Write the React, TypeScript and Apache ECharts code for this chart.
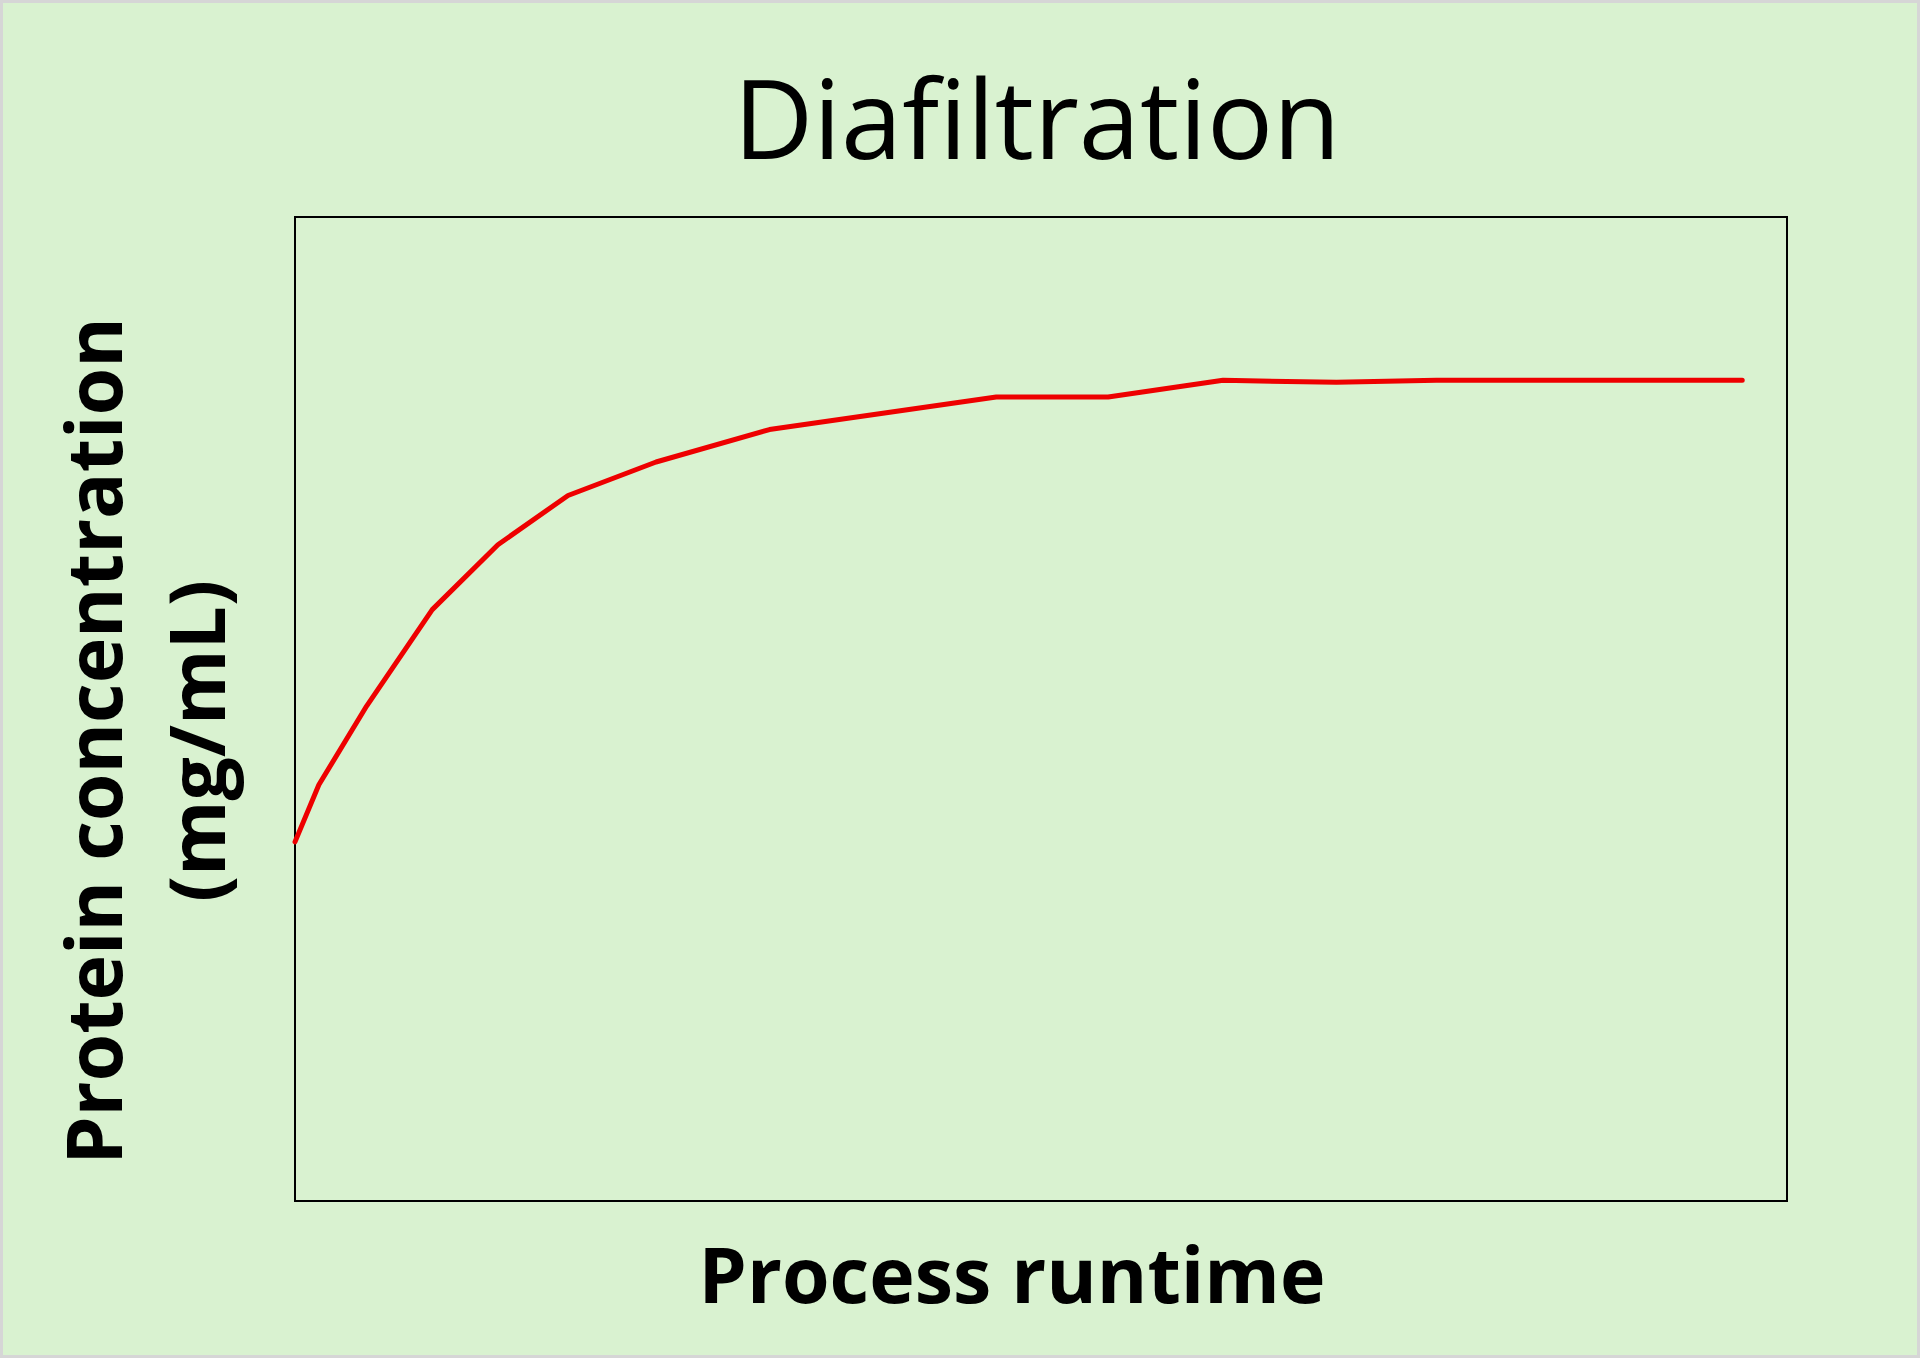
import React, { useEffect, useRef } from "react";
import * as echarts from "echarts";

const runtime = [0, 1.6, 4.8, 9.2, 13.6, 18.3, 24.2, 31.8, 47.0, 54.5, 62.2, 69.8, 76.5, 97.0];
const concentration = [36.5, 42.3, 50.3, 60.1, 66.7, 71.7, 75.1, 78.4, 81.7, 81.7, 83.4, 83.2, 83.4, 83.4];

const titleText = "Diafiltration";
const xAxisTitle = "Process runtime";
const yAxisTitle = "Protein concentration\n(mg/mL)";

export default function App() {
  const ref = useRef<HTMLDivElement>(null);
  useEffect(() => {
    document.body.style.margin = "0";
    const chart = echarts.init(ref.current!, null, { renderer: "svg" });
    const data = runtime.map((x, i) => [x, concentration[i]]);
    chart.setOption({
      animation: false,
      backgroundColor: "#d9f2d0",
      title: {
        text: titleText,
        left: 1032,
        top: 56,
        textAlign: "center",
        textStyle: {
          fontFamily: "Open Sans",
          fontWeight: "normal",
          fontSize: 110,
          color: "#000",
        },
      },
      grid: {
        left: 295,
        top: 217,
        width: 1492,
        height: 984,
        show: true,
        borderColor: "#000",
        borderWidth: 2,
        backgroundColor: "transparent",
        containLabel: false,
      },
      xAxis: {
        type: "value",
        min: 0,
        max: 100,
        axisLine: { show: false },
        axisTick: { show: false },
        axisLabel: { show: false },
        splitLine: { show: false },
        name: xAxisTitle,
        nameLocation: "middle",
        nameGap: 34,
        nameTextStyle: {
          fontFamily: "Open Sans",
          fontWeight: "bold",
          fontSize: 77,
          color: "#000",
          padding: [0, 58, 0, 0],
        },
      },
      yAxis: {
        type: "value",
        min: 0,
        max: 100,
        axisLine: { show: false },
        axisTick: { show: false },
        axisLabel: { show: false },
        splitLine: { show: false },
        name: yAxisTitle,
        nameLocation: "middle",
        nameRotate: 90,
        nameGap: 48,
        nameTextStyle: {
          fontFamily: "Open Sans",
          fontWeight: "bold",
          fontSize: 77,
          lineHeight: 103,
          color: "#000",
          align: "center",
          padding: [0, 64, 0, 0],
        },
      },
      graphic: [
        {
          type: "rect",
          shape: { x: 1.5, y: 1.5, width: 1917, height: 1355 },
          style: { fill: "none", stroke: "#d6d6d6", lineWidth: 3 },
          silent: true,
        },
      ],
      series: [
        {
          type: "line",
          data,
          showSymbol: false,
          symbol: "none",
          lineStyle: { color: "#ee0000", width: 5, cap: "round", join: "round" },
        },
      ],
    });
    return () => chart.dispose();
  }, []);
  return <div ref={ref} style={{ width: 1920, height: 1358 }} />;
}
